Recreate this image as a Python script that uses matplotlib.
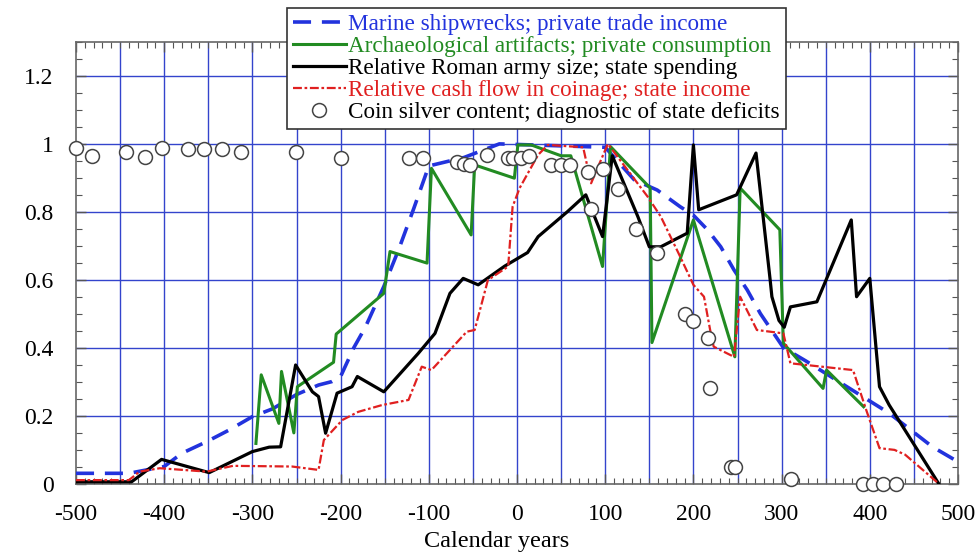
import numpy as np
import matplotlib
matplotlib.use("Agg")
import matplotlib.pyplot as plt
from matplotlib.ticker import MultipleLocator, FuncFormatter

plt.rcParams['font.family'] = ['Liberation Serif', 'DejaVu Serif']
plt.rcParams['axes.unicode_minus'] = False

# Marine shipwrecks; private trade income
blue_x = [-500, -440, -400, -380, -352, -326, -300, -277, -250, -225, -210, -200, -185, -172,
          -151, -134, -117, -100, -60, -20, 100, 133, 159, 185, 200, 216, 231, 246, 261, 276,
          302, 328, 374, 422, 471, 500]
blue_y = [0.03, 0.03, 0.05, 0.089, 0.123, 0.158, 0.197, 0.22, 0.262, 0.29, 0.30, 0.315, 0.40, 0.46,
          0.58, 0.69, 0.81, 0.935, 0.96, 1.0, 0.99, 0.894, 0.864, 0.815, 0.79, 0.747, 0.697, 0.629,
          0.57, 0.50, 0.40, 0.36, 0.285, 0.207, 0.108, 0.064]

# Archaeological artifacts; private consumption
green_x = [-296, -290, -270, -267, -253, -249, -208, -205, -151, -144, -102, -97, -52, -48, -3, 1,
           16, 50, 61, 97, 106, 151, 153, 200, 247, 253, 298, 302, 347, 351, 393]
green_y = [0.118, 0.32, 0.177, 0.33, 0.149, 0.285, 0.357, 0.44, 0.56, 0.683, 0.649, 0.928, 0.732,
           0.938, 0.899, 0.997, 0.997, 0.965, 0.965, 0.639, 0.992, 0.87, 0.415, 0.776, 0.373, 0.87,
           0.747, 0.413, 0.28, 0.334, 0.226]

# Relative Roman army size; state spending
black_x = [-500, -437, -403, -349, -300, -281, -268, -251, -232, -225, -217, -204, -187, -181, -151,
           -112, -93, -76, -61, -44, -14, 12, 24, 57, 78, 97, 108, 137, 150, 163, 193, 200, 206, 249,
           271, 287, 289, 297, 303, 310, 340, 379, 385, 400, 411, 422, 478]
black_y = [0.005, 0.005, 0.071, 0.032, 0.094, 0.107, 0.108, 0.349, 0.27, 0.256, 0.148, 0.266, 0.285,
           0.315, 0.27, 0.383, 0.442, 0.56, 0.604, 0.585, 0.64, 0.68, 0.727, 0.80, 0.85, 0.727, 0.965,
           0.786, 0.697, 0.697, 0.737, 0.997, 0.806, 0.85, 0.973, 0.6, 0.55, 0.48, 0.46, 0.52, 0.535,
           0.776, 0.55, 0.604, 0.285, 0.231, 0.0]

# Relative cash flow in coinage; state income
red_x = [-500, -440, -428, -405, -352, -322, -255, -225, -219, -198, -180, -153, -123, -108, -97, -57,
         -48, -33, -10, -5, 3, 24, 35, 75, 84, 103, 148, 163, 185, 200, 212, 219, 223, 246, 253, 272,
         302, 310, 381, 396, 411, 428, 440, 478]
red_y = [0.01, 0.01, 0.035, 0.045, 0.035, 0.052, 0.05, 0.04, 0.128, 0.187, 0.211, 0.231, 0.246, 0.344,
         0.334, 0.447, 0.452, 0.599, 0.639, 0.815, 0.87, 0.968, 0.997, 0.99, 0.884, 1.0, 0.845, 0.786,
         0.668, 0.585, 0.55, 0.452, 0.403, 0.373, 0.55, 0.452, 0.442, 0.354, 0.334, 0.216, 0.104, 0.099,
         0.085, 0.0]

# Coin silver content; diagnostic of state deficits
coin_x = [-500, -482, -443, -422, -402, -373, -355, -335, -313, -251, -200, -123, -107, -68, -60, -53,
          -34, -10, -4, 4, 14, 39, 50, 60, 80, 84, 97, 115, 135, 159, 190, 200, 216, 219, 243, 247,
          311, 392, 404, 415, 430]
coin_y = [0.987, 0.963, 0.977, 0.96, 0.987, 0.984, 0.984, 0.984, 0.976, 0.977, 0.958, 0.958, 0.958,
          0.948, 0.942, 0.938, 0.968, 0.958, 0.958, 0.958, 0.965, 0.938, 0.938, 0.938, 0.918, 0.807,
          0.925, 0.866, 0.75, 0.679, 0.50, 0.478, 0.428, 0.28, 0.05, 0.05, 0.014, 0.0, 0.0, 0.0, 0.0]

labels = ["Marine shipwrecks; private trade income",
          "Archaeological artifacts; private consumption",
          "Relative Roman army size; state spending",
          "Relative cash flow in coinage; state income",
          "Coin silver content; diagnostic of state deficits"]

BLUE = '#2233dd'
GREEN = '#228b22'
RED = '#e02020'
GRID = '#3344cc'

fig = plt.figure(figsize=(9.78, 5.6), dpi=100)
ax = fig.add_axes([76 / 978, 0.1366, 882 / 978, 0.7884])

ax.plot(blue_x, blue_y, color=BLUE, lw=2.6, dashes=(5, 3), label=labels[0], zorder=3)
ax.plot(green_x, green_y, color=GREEN, lw=2.2, label=labels[1], zorder=3)
ax.plot(black_x, black_y, color='black', lw=2.3, label=labels[2], zorder=4)
ax.plot(red_x, red_y, color=RED, lw=1.6, dashes=(4, 1.2, 1.2, 1.2), label=labels[3], zorder=4)
ax.plot(coin_x, coin_y, ls='none', marker='o', ms=10, mfc='white', mec='#444444', mew=1.1,
        label=labels[4], zorder=5, clip_on=False)

ax.set_xlim(-500, 500)
ax.set_ylim(0, 1.3)
ax.xaxis.set_major_locator(MultipleLocator(100))
ax.xaxis.set_minor_locator(MultipleLocator(10))
ax.yaxis.set_major_locator(MultipleLocator(0.2))
ax.yaxis.set_minor_locator(MultipleLocator(0.05))
ax.xaxis.set_major_formatter(FuncFormatter(lambda v, p: '%d' % round(v)))
ax.yaxis.set_major_formatter(FuncFormatter(lambda v, p: '%g' % round(v, 2)))

# grid every 50 years and every 0.2
for gx in np.arange(-450, 500, 50):
    ax.axvline(gx, color=GRID, lw=1.0, zorder=1)
for gy in np.arange(0.2, 1.3, 0.2):
    ax.axhline(gy, color=GRID, lw=1.0, zorder=1)

ax.tick_params(which='both', direction='in', top=True, right=True, colors='#555555',
               labelcolor='black', labelsize=17)
ax.tick_params(which='major', length=7, width=1)
ax.tick_params(which='minor', length=4, width=0.8)
ax.tick_params(axis='x', which='major', pad=15)
ax.tick_params(axis='y', which='major', pad=16)
for s in ax.spines.values():
    s.set_color('#666666')
    s.set_linewidth(1.2)

ax.set_xlabel("Calendar years", fontsize=17.5)
ax.xaxis.label.set_va('center')
ax.xaxis.set_label_coords((497 - 76) / 882, (483.5 - 541) / 441.5)

leg = fig.legend(loc='upper left', bbox_to_anchor=(287 / 978, 1 - 8 / 560), fontsize=16.7,
                 frameon=True, fancybox=False, edgecolor='#333333', framealpha=1,
                 handlelength=2.3, handletextpad=0.1, labelspacing=0.03, borderpad=0.25,
                 borderaxespad=0)
leg.get_frame().set_linewidth(1.2)
for txt, c in zip(leg.get_texts(), [BLUE, GREEN, 'black', RED, 'black']):
    txt.set_color(c)

fig.savefig("out.png", dpi=100)
